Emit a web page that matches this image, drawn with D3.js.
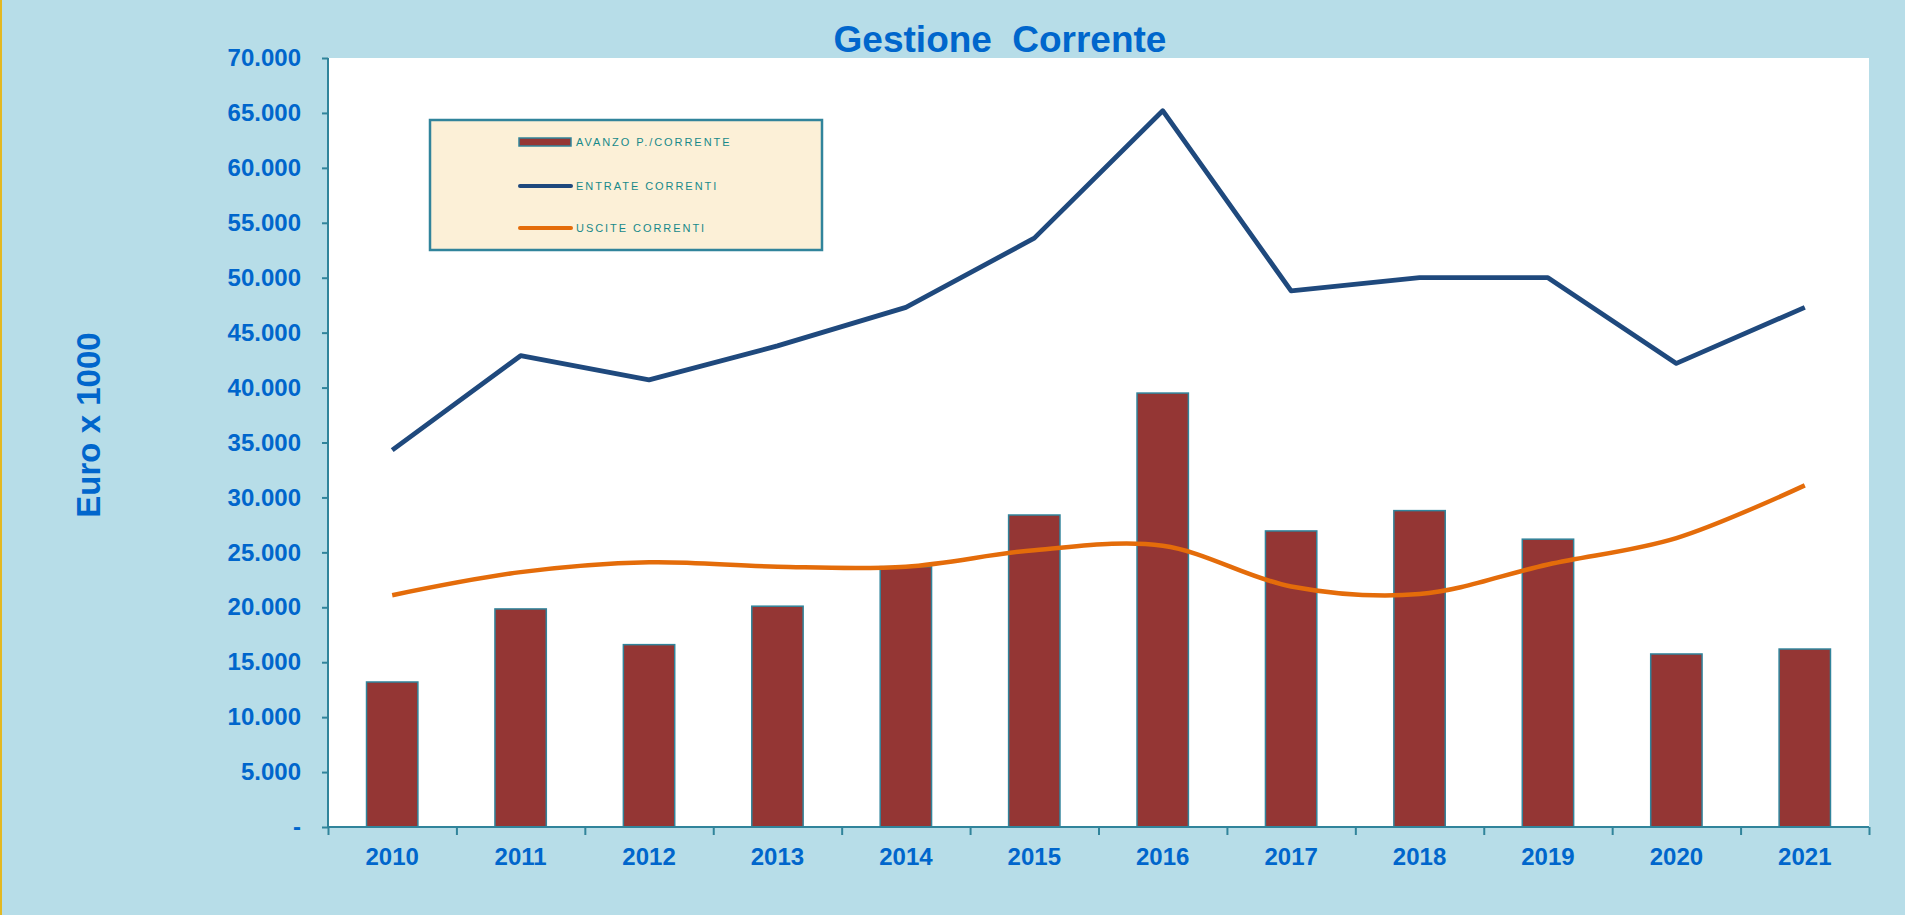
<!DOCTYPE html>
<html lang="it">
<head>
    <meta charset="UTF-8">
    <title>Gestione Corrente</title>
    <script src="https://d3js.org/d3.v7.min.js"></script>
    <style>
        body { margin: 0; background: #b7dde8; overflow: hidden; }
        svg { display: block; font-family: "Liberation Sans", Arial, sans-serif; }
        .axis path, .axis line { stroke: #31849b; stroke-width: 2; }
        .axis text { fill: #0066cc; font-weight: bold; font-size: 24px; }
        .legend-text { fill: #17898a; font-size: 11px; letter-spacing: 1.95px; }
    </style>
</head>
<body>
<svg id="chart"></svg>
<script>
    const years = ["2010", "2011", "2012", "2013", "2014", "2015", "2016", "2017", "2018", "2019", "2020", "2021"];
    const avanzo = [13200, 19850, 16600, 20100, 23700, 28400, 39500, 26950, 28800, 26200, 15750, 16200];
    const entrate = [34300, 42900, 40700, 43800, 47300, 53600, 65200, 48800, 50000, 50000, 42200, 47300];
    const uscite = [21100, 23200, 24100, 23700, 23700, 25200, 25600, 21900, 21200, 23900, 26300, 31100];
    const yTicks = [0, 5000, 10000, 15000, 20000, 25000, 30000, 35000, 40000, 45000, 50000, 55000, 60000, 65000, 70000];
    const yTickLabels = ["-", "5.000", "10.000", "15.000", "20.000", "25.000", "30.000", "35.000",
        "40.000", "45.000", "50.000", "55.000", "60.000", "65.000", "70.000"];
    const legendLabels = ["AVANZO P./CORRENTE", "ENTRATE CORRENTI", "USCITE CORRENTI"];

    const width = 1905, height = 915;
    const margin = { left: 328, right: 36, top: 58, bottom: 88 };
    const innerW = width - margin.left - margin.right;
    const innerH = height - margin.top - margin.bottom;

    const svg = d3.select("#chart").attr("width", width).attr("height", height);

    // background + thin gold edge on the left
    svg.append("rect").attr("width", width).attr("height", height).attr("fill", "#b7dde8");
    svg.append("rect").attr("width", 2).attr("height", height).attr("fill", "#e3b821");

    svg.append("text")
        .attr("x", 1000).attr("y", 52)
        .attr("text-anchor", "middle")
        .attr("fill", "#0066cc")
        .attr("font-size", "37px")
        .attr("font-weight", "bold")
        .attr("word-spacing", "10px")
        .text("Gestione Corrente");

    svg.append("text")
        .attr("transform", "translate(100,425) rotate(-90)")
        .attr("text-anchor", "middle")
        .attr("fill", "#0066cc")
        .attr("font-size", "33px")
        .attr("font-weight", "bold")
        .text("Euro x 1000");

    const chart = svg.append("g").attr("transform", `translate(${margin.left},${margin.top})`);

    chart.append("rect").attr("width", innerW).attr("height", innerH).attr("fill", "white");

    const x = d3.scaleBand().domain(years).range([0, innerW]);
    const xEdges = d3.scaleLinear().domain([0, years.length]).range([0, innerW]);
    const y = d3.scaleLinear().domain([0, 70000]).range([innerH, 0]);

    // bars
    const barW = x.bandwidth() * 0.4;
    chart.selectAll(".bar")
        .data(years)
        .enter().append("rect")
        .attr("class", "bar")
        .attr("x", (d) => x(d) + (x.bandwidth() - barW) / 2)
        .attr("y", (d, i) => y(avanzo[i]))
        .attr("width", barW)
        .attr("height", (d, i) => y(0) - y(avanzo[i]))
        .attr("fill", "#943634")
        .attr("stroke", "#31849b")
        .attr("stroke-width", 1.5);

    // lines (uscite is smoothed in the original, entrate is straight)
    const blueLine = d3.line()
        .x((d, i) => x(years[i]) + x.bandwidth() / 2)
        .y((d) => y(d));
    const orangeLine = d3.line()
        .x((d, i) => x(years[i]) + x.bandwidth() / 2)
        .y((d) => y(d))
        .curve(d3.curveCatmullRom.alpha(0.5));

    chart.append("path")
        .datum(uscite)
        .attr("d", orangeLine)
        .attr("fill", "none")
        .attr("stroke", "#e46c0a")
        .attr("stroke-width", 4.5)
        .attr("stroke-linejoin", "round");

    chart.append("path")
        .datum(entrate)
        .attr("d", blueLine)
        .attr("fill", "none")
        .attr("stroke", "#1f497d")
        .attr("stroke-width", 4.8)
        .attr("stroke-linejoin", "round");

    // y axis
    chart.append("g")
        .attr("class", "axis")
        .call(d3.axisLeft(y).tickValues(yTicks).tickSize(6).tickPadding(21)
            .tickFormat((d, i) => yTickLabels[i]))
        .call((g) => g.select(".domain").attr("d", `M0,${innerH}V0`));

    // x axis: labels at band centres, ticks at band edges
    chart.append("g")
        .attr("class", "axis")
        .attr("transform", `translate(0,${innerH})`)
        .call(d3.axisBottom(x).tickSize(0).tickPadding(21))
        .call((g) => g.select(".domain").remove());

    chart.append("g")
        .attr("class", "axis")
        .attr("transform", `translate(0,${innerH})`)
        .call(d3.axisBottom(xEdges).ticks(years.length).tickSize(8).tickFormat(""))
        .call((g) => g.select(".domain").attr("d", `M0,0H${innerW}`));

    // legend
    const legend = svg.append("g").attr("transform", "translate(430,120)");
    legend.append("rect")
        .attr("width", 392).attr("height", 130)
        .attr("fill", "#fcf0d7")
        .attr("stroke", "#31849b")
        .attr("stroke-width", 2.5);

    const rowY = [22, 66, 108];
    const item = legend.selectAll(".item")
        .data(legendLabels)
        .enter().append("g")
        .attr("transform", (d, i) => `translate(0,${rowY[i]})`);

    item.filter((d, i) => i === 0).append("rect")
        .attr("x", 89).attr("y", -4).attr("width", 52).attr("height", 8)
        .attr("fill", "#943634").attr("stroke", "#31849b").attr("stroke-width", 1.5);
    item.filter((d, i) => i > 0).append("line")
        .attr("x1", 90).attr("x2", 141)
        .attr("stroke", (d, i) => i === 0 ? "#1f497d" : "#e46c0a")
        .attr("stroke-width", 4)
        .attr("stroke-linecap", "round");

    item.append("text")
        .attr("class", "legend-text")
        .attr("x", 146)
        .attr("dy", "0.36em")
        .text((d) => d);
</script>
</body>
</html>
